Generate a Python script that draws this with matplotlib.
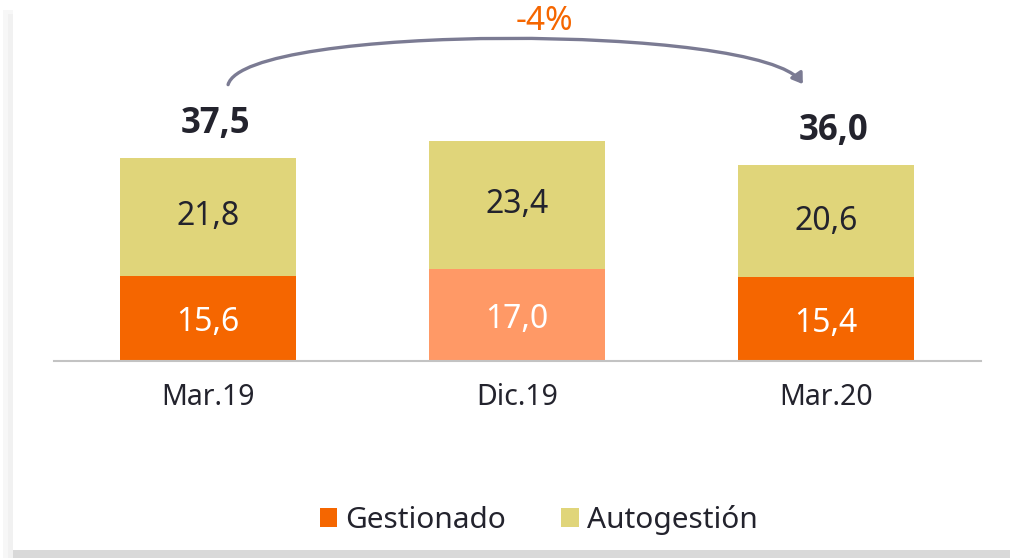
# -*- coding: utf-8 -*-
"""
Gestionado vs Autogestión - barres empilées
Sortie: out.png
"""
import matplotlib
matplotlib.use("Agg")
from matplotlib import pyplot as plt
from matplotlib.patches import Patch, Rectangle, FancyArrowPatch
from matplotlib.path import Path
import numpy as np

plt.rcParams['font.family'] = ['Noto Sans', 'DejaVu Sans']

##############################################################################
# DONNÉES
##############################################################################

categories = ['Mar.19', 'Dic.19', 'Mar.20']
gestionado = [15.6, 17.0, 15.4]
autogestion = [21.8, 23.4, 20.6]
totals = [37.5, 40.4, 36.0]          # totaux affichés (arrondis de la source)
show_total = [True, False, True]

ORANGE = '#F56600'
SALMON = '#FF9966'
KHAKI = '#E0D57A'
DARK = '#23232D'
ARC = '#7B7B93'

gest_colors = [ORANGE, SALMON, ORANGE]


def fmt(v):
    return f"{v:.1f}".replace('.', ',')


##############################################################################
# FIGURE
##############################################################################

W, H = 1010, 558
fig = plt.figure(figsize=(W / 100, H / 100), dpi=100)
fig.patch.set_facecolor('white')

# cadre : ombre gauche et bande grise en bas
fig.patches.append(Rectangle((3 / W, 0), 10 / W, 1 - 10 / H, transform=fig.transFigure,
                             facecolor='#F7F7F7', edgecolor='none', zorder=0))
fig.patches.append(Rectangle((8 / W, 0), 5 / W, 1 - 14 / H, transform=fig.transFigure,
                             facecolor='#F1F1F1', edgecolor='none', zorder=0))
fig.patches.append(Rectangle((13 / W, 0), 1, 8 / H, transform=fig.transFigure,
                             facecolor='#D9D9D9', edgecolor='none', zorder=0))

base_px = 361
px_per_unit = 5.44
ax = fig.add_axes([53.5 / W, (H - base_px) / H, 927 / W, base_px / H])
ax.set_facecolor('none')
ax.set_xlim(-0.5, 2.5)
ax.set_ylim(0, base_px / px_per_unit)

x = np.arange(len(categories))
gestionado = np.array(gestionado)
autogestion = np.array(autogestion)
totals = np.array(totals)
bw = 0.57

ax.bar(x, gestionado, bw, color=gest_colors, zorder=2)
ax.bar(x, autogestion, bw, bottom=gestionado, color=KHAKI, zorder=2)

for i in range(len(categories)):
    ax.text(x[i], gestionado[i] / 2 - 0.8, fmt(gestionado[i]), ha='center', va='center',
            fontsize=23, color='white')
    ax.text(x[i], gestionado[i] + autogestion[i] / 2, fmt(autogestion[i]), ha='center',
            va='center', fontsize=23, color=DARK)
    if show_total[i]:
        ax.text(x[i] + 0.024, gestionado[i] + autogestion[i] + 6.2, fmt(totals[i]),
                ha='center', va='center', fontsize=25, fontweight='bold',
                family=['Open Sans', 'DejaVu Sans'], color=DARK, clip_on=False)

# axes
for s in ['top', 'right', 'left']:
    ax.spines[s].set_visible(False)
ax.spines['bottom'].set_color('#C3C3C3')
ax.spines['bottom'].set_linewidth(1.5)
ax.set_yticks([])
ax.set_xticks(x)
ax.set_xticklabels(categories, fontsize=20.5, color=DARK)
ax.tick_params(axis='x', length=0, pad=16)

# flèche de variation
y0 = totals[0] + 13.3
y1 = totals[2] + 14.9
h = 11.2
verts = [(x[0] + 0.065, y0), (x[0] + 0.12, y0 + h), (x[2] - 0.21, y1 + h), (x[2] - 0.075, y1)]
path = Path(verts, [Path.MOVETO, Path.CURVE4, Path.CURVE4, Path.CURVE4])
arrow = FancyArrowPatch(path=path, arrowstyle='-|>,head_length=6,head_width=4',
                        color=ARC, linewidth=2.4, clip_on=False, zorder=3)
ax.add_patch(arrow)

var = (totals[2] / totals[0] - 1) * 100
ax.text(1.09, 62.4, f"{var:.0f}%", ha='center', va='center', fontsize=24,
        color=ORANGE, clip_on=False)

# légende
handles = [Patch(facecolor=ORANGE, edgecolor='none', label='Gestionado'),
           Patch(facecolor=KHAKI, edgecolor='none', label='Autogestión')]
leg = fig.legend(handles=handles, loc='center', bbox_to_anchor=(538.5 / W, 1 - 520 / H),
                 ncol=2, frameon=False, fontsize=21.5, handlelength=0.57,
                 handleheight=0.57, handletextpad=0.27, columnspacing=1.87,
                 borderpad=0, borderaxespad=0)
for t in leg.get_texts():
    t.set_color(DARK)

plt.savefig('out.png', dpi=100)
plt.close()
